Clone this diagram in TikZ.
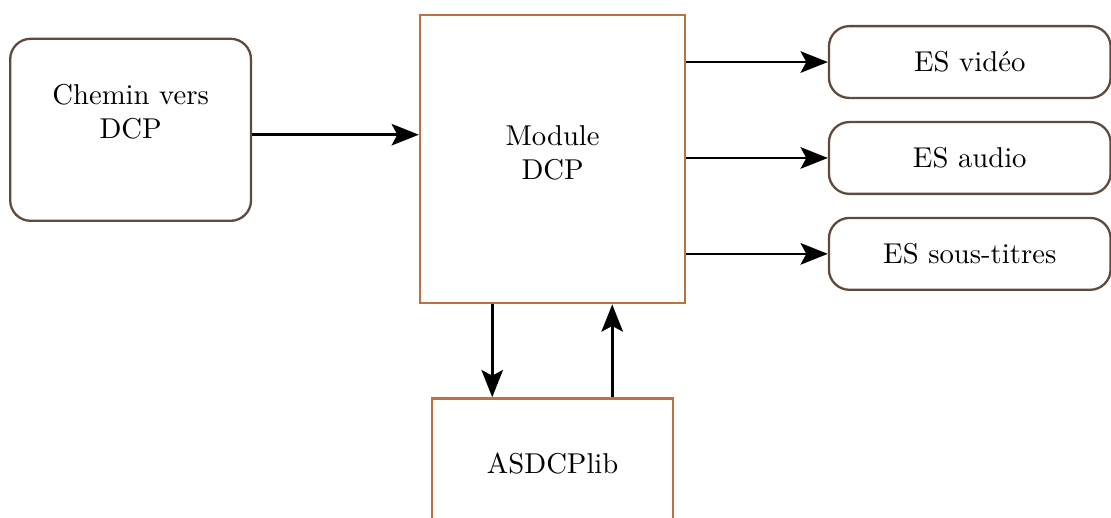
\documentclass[tikz,border=0pt]{standalone}
\usetikzlibrary{arrows.meta,positioning}
\definecolor{edgebrown}{RGB}{94,75,60}
\definecolor{edgeorange}{RGB}{190,112,62}
\tikzset{
  rbox/.style={draw=edgebrown, line width=0.8pt, rounded corners=0.25cm, align=center},
  mbox/.style={draw=edgeorange, line width=0.8pt, align=center},
  flow/.style={-{Stealth[length=9.5pt,width=7.5pt,inset=2pt]}, line width=0.9pt},
}
\begin{document}
\begin{tikzpicture}
  \useasboundingbox (0cm,0cm) rectangle (13.61cm,-6.345cm);
  \node[rbox, minimum width=2.95cm, minimum height=2.23cm,
    label={[align=center,yshift=0.22cm]center:Chemin vers\\DCP}] (chemin) at (1.60cm,-1.59cm) {};
  \node[mbox, minimum width=3.25cm, minimum height=3.53cm,
    label={[align=center,yshift=0.08cm]center:Module\\DCP}] (module) at (6.77cm,-1.95cm) {};
  \node[rbox, minimum width=3.45cm, minimum height=0.88cm] (video) at (11.88cm,-0.76cm) {ES vidéo};
  \node[rbox, minimum width=3.45cm, minimum height=0.88cm] (audio) at (11.88cm,-1.935cm) {ES audio};
  \node[rbox, minimum width=3.45cm, minimum height=0.88cm] (soustitres) at (11.88cm,-3.11cm) {ES sous-titres};
  \node[mbox, minimum width=2.95cm, minimum height=1.6cm] (lib) at (6.77cm,-5.68cm) {ASDCPlib};

  \draw[flow] ([yshift=-0.06cm]chemin.east) -- ([yshift=-0.06cm]chemin.east -| module.west);
  \draw[flow] (module.east |- video.west) -- (video.west);
  \draw[flow] (module.east |- audio.west) -- (audio.west);
  \draw[flow] (module.east |- soustitres.west) -- (soustitres.west);
  \draw[flow] ([xshift=-0.74cm]module.south) -- ([xshift=-0.74cm]module.south |- lib.north);
  \draw[flow] ([xshift=0.73cm]lib.north) -- ([xshift=0.73cm]lib.north |- module.south);
\end{tikzpicture}
\end{document}
